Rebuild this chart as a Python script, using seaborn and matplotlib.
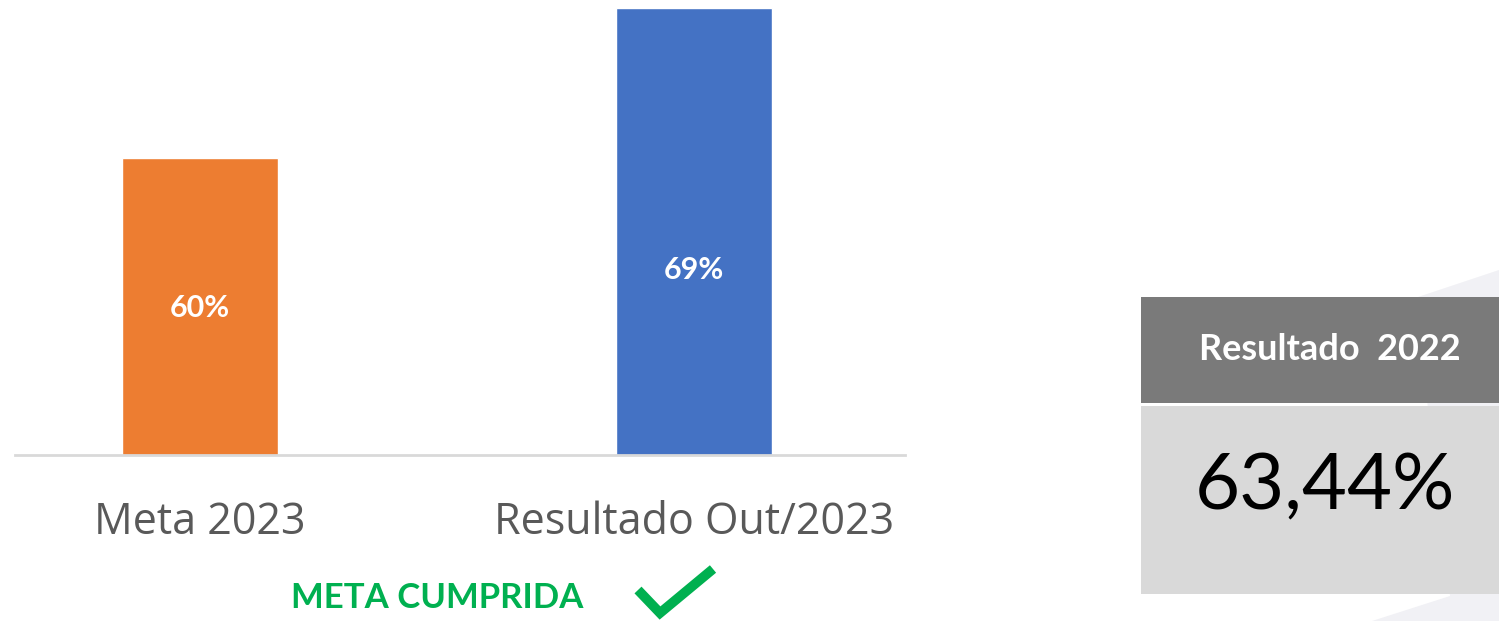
import matplotlib
matplotlib.use("Agg")
import matplotlib.pyplot as plt
import seaborn as sns
import pandas as pd
from matplotlib.patches import Rectangle, Polygon
from matplotlib.lines import Line2D

# ---- data ----
categories = ["Meta 2023", "Resultado Out/2023"]
values = [60, 69]
value_labels = ["60%", "69%"]
bar_colors = ["#ED7D31", "#4472C4"]
status_text = "META CUMPRIDA"
box_title = "Resultado  2022"
box_value = 63.44

sns.set_theme(style="white")
plt.rcParams["font.family"] = ["Open Sans", "DejaVu Sans"]

W, H = 1499, 621
fig = plt.figure(figsize=(W / 100, H / 100), dpi=100)
fig.patch.set_facecolor("white")

# background overlay axes in pixel coords
bg = fig.add_axes([0, 0, 1, 1], zorder=0)
bg.set_xlim(0, W)
bg.set_ylim(H, 0)
bg.axis("off")
# faint decorative swoosh
bg.add_patch(Polygon([[1415, 298], [1499, 270], [1499, 621], [1372, 621], [1450, 596]],
                     closed=True, facecolor="#f1f1f5", edgecolor="none"))

# main bar axes
ax = fig.add_axes([15 / W, (H - 455) / H, 890 / W, 455 / H], zorder=2)
ax.patch.set_alpha(0)
df = pd.DataFrame({"cat": categories, "val": values})
sns.barplot(data=df, x="cat", y="val", hue="cat", palette=bar_colors,
            width=0.316, legend=False, ax=ax, saturation=1)
ybottom, ytop = 42.18, 69.48
ax.set_ylim(ybottom, ytop)
ax.set_xlim(-0.3745, 1.427)
for s in ["top", "right", "left"]:
    ax.spines[s].set_visible(False)
ax.spines["bottom"].set_color("#d9d9d9")
ax.spines["bottom"].set_linewidth(2)
ax.set_yticks([])
ax.set_xlabel("")
ax.set_ylabel("")
ax.tick_params(axis="x", length=0, pad=33, labelsize=31, labelcolor="#595959")

label_frac = [0.495, 0.414]
for i, (v, lab) in enumerate(zip(values, value_labels)):
    ax.text(i, ybottom + label_frac[i] * (v - ybottom), lab, ha="center", va="center",
            color="white", fontsize=22, fontweight="bold", family=["Lato", "DejaVu Sans"])

# status text and check mark
bg.text(437, 598, status_text, ha="center", va="center", color="#00B050",
        fontsize=25, fontweight="bold", family=["Lato", "DejaVu Sans"])
bg.add_line(Line2D([638, 660, 713], [590, 613, 569], color="#00B050", linewidth=7,
                   solid_joinstyle="miter", solid_capstyle="butt"))

# result box
bg.add_patch(Rectangle((1141, 297), W - 1141, 106, facecolor="#7a7a7a", edgecolor="none", zorder=3))
bg.add_patch(Rectangle((1141, 406), W - 1141, 188, facecolor="#d9d9d9", edgecolor="none", zorder=3))
bg.text(1330, 350, box_title, ha="center", va="center", color="white", fontsize=26,
        fontweight="bold", family=["Lato", "DejaVu Sans"], zorder=4)
bg.text(1325, 488, f"{box_value:.2f}%".replace(".", ","), ha="center", va="center",
        color="black", fontsize=56, family=["Lato", "DejaVu Sans"], zorder=4)

fig.savefig("out.png", dpi=100, facecolor="white")
